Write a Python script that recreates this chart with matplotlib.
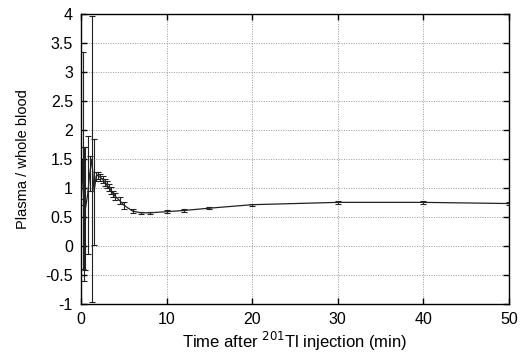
import numpy as np
import matplotlib
matplotlib.use("Agg")
import matplotlib.pyplot as plt

plt.rcParams['font.family'] = ['Liberation Sans', 'DejaVu Sans']

# time after injection (min), ratio plasma / whole blood, and error
times = [0.0, 0.15, 0.35, 0.5, 0.75, 1.0, 1.25, 1.5, 1.75, 2.0, 2.25, 2.5,
         2.75, 3.0, 3.25, 3.5, 3.75, 4.0, 4.5, 5.0, 6.0, 7.0, 8.0, 10.0,
         12.0, 15.0, 20.0, 30.0, 40.0, 50.0]
ratio = [0.75, 1.47, 0.55, 0.65, 0.88, 1.25, 1.5, 0.93, 1.2, 1.22, 1.18,
         1.15, 1.1, 1.05, 1.0, 0.95, 0.9, 0.85, 0.78, 0.7, 0.6, 0.57, 0.57,
         0.59, 0.61, 0.65, 0.71, 0.75, 0.75, 0.73]
err = [0.05, 1.87, 1.15, 1.06, 1.02, 0.3, 2.47, 0.92, 0.08, 0.06, 0.06,
       0.06, 0.06, 0.06, 0.06, 0.06, 0.05, 0.06, 0.06, 0.06, 0.03, 0.02,
       0.02, 0.02, 0.02, 0.02, 0.02, 0.02, 0.02, 0.02]

fig = plt.figure(figsize=(5.24, 3.55), dpi=100)
ax = fig.add_axes([0.155, 0.144, 0.816, 0.817])

ax.errorbar(times, ratio, yerr=err, color='#222222', linewidth=0.9,
            elinewidth=0.8, capsize=2.5, capthick=0.8)

ax.set_xlim(0, 50)
ax.set_ylim(-1, 4)
ax.set_xticks(np.arange(0, 51, 10))
ax.set_yticks(np.arange(-1, 4.01, 0.5))
ax.set_yticklabels(['-1', '-0.5', '0', '0.5', '1', '1.5', '2', '2.5', '3',
                    '3.5', '4'])
ax.grid(True, color='#999999', linestyle=(0, (1, 1.5)), linewidth=0.7)
ax.tick_params(direction='in', length=4, width=1, top=True, right=True,
               labelsize=11.5, pad=6)
for s in ax.spines.values():
    s.set_linewidth(1)

ax.set_xlabel('Time after $^{201}$Tl injection (min)', fontsize=12, labelpad=2)
ax.set_ylabel('Plasma / whole blood', fontsize=10.5, labelpad=11)

fig.savefig('out.png', dpi=100)
